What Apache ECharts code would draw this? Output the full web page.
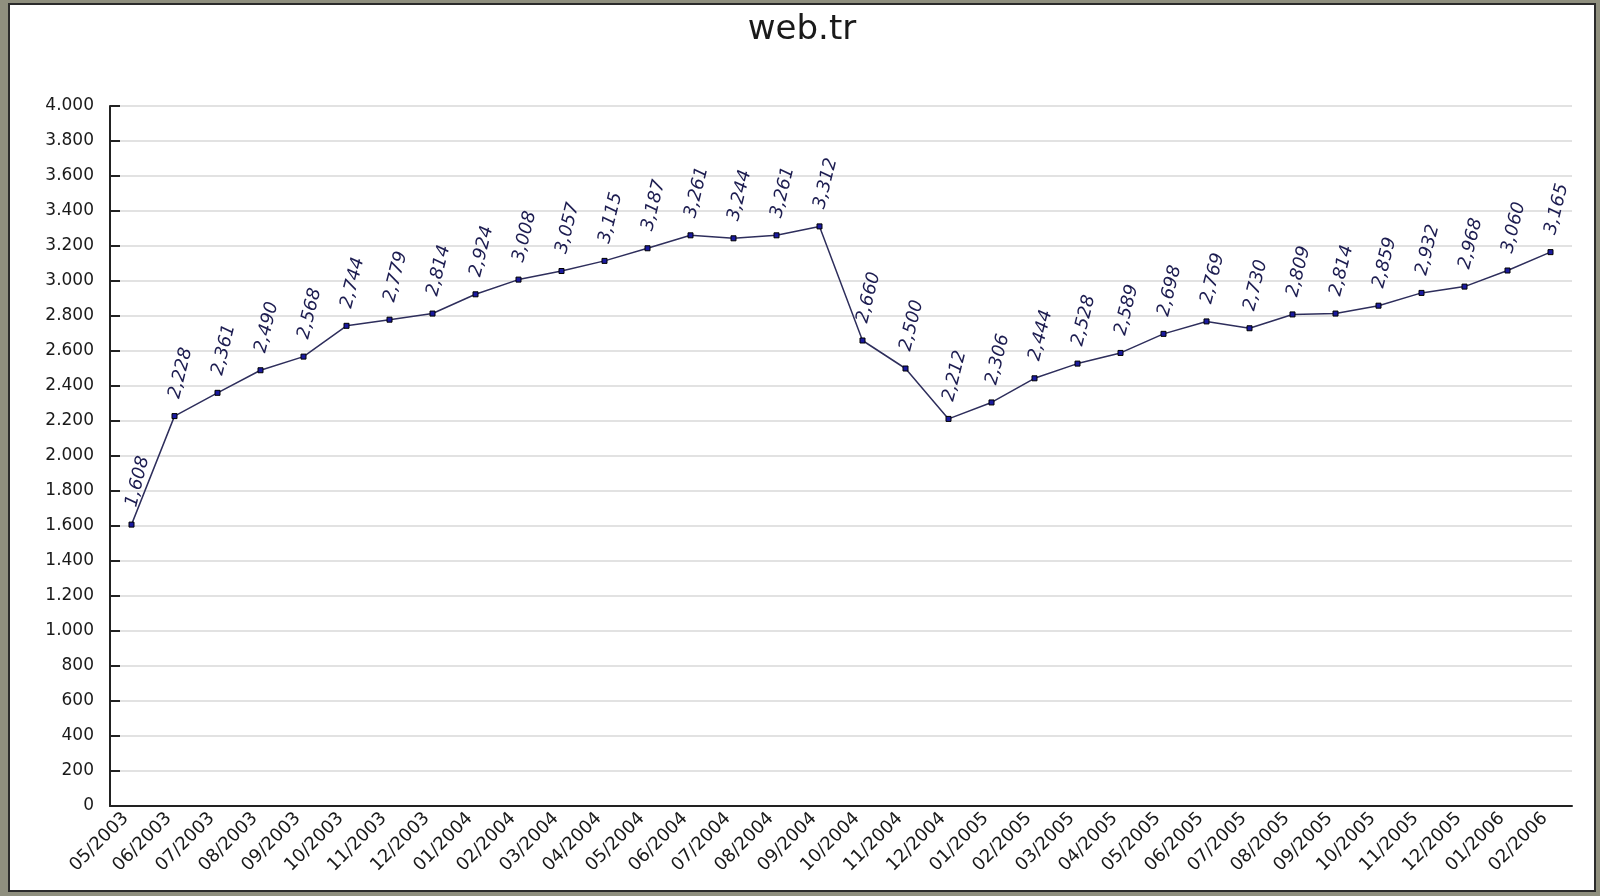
<!DOCTYPE html>
<html>
<head>
<meta charset="utf-8">
<script src="https://cdn.jsdelivr.net/npm/echarts@6/dist/echarts.min.js"></script>
<style>
  html, body { margin: 0; padding: 0; background: #8f8f7e; }
  #frame {
    position: absolute; left: 8px; top: 3px; width: 1588px; height: 889px;
    background: #fff; border: 2px solid #2b2b2b; box-sizing: border-box;
  }
  #chart { position: absolute; left: -8px; top: -3px; width: 1600px; height: 896px; }
</style>
</head>
<body>
<div id="frame"><div id="chart"></div></div>
<script>
const months = ['05/2003', '06/2003', '07/2003', '08/2003', '09/2003', '10/2003', '11/2003', '12/2003',
  '01/2004', '02/2004', '03/2004', '04/2004', '05/2004', '06/2004', '07/2004', '08/2004', '09/2004',
  '10/2004', '11/2004', '12/2004', '01/2005', '02/2005', '03/2005', '04/2005', '05/2005', '06/2005',
  '07/2005', '08/2005', '09/2005', '10/2005', '11/2005', '12/2005', '01/2006', '02/2006']
const counts = [1608, 2228, 2361, 2490, 2568, 2744, 2779, 2814, 2924, 3008, 3057, 3115, 3187, 3261,
  3244, 3261, 3312, 2660, 2500, 2212, 2306, 2444, 2528, 2589, 2698, 2769, 2730, 2809, 2814, 2859,
  2932, 2968, 3060, 3165]
const yMin = 0
const yMax = 4000
const yStep = 200

const chart = echarts.init(document.getElementById('chart'))
const fontFam = 'DejaVu Sans'

const option = {
  backgroundColor: 'transparent',
  title: {
    text: 'web.tr',
    left: 'center',
    top: 6,
    padding: [5, 0, 5, 28],
    textStyle: { fontFamily: fontFam, fontSize: 34, fontWeight: 'normal', color: '#1a1a1a' }
  },
  grid: { left: 108, right: 30, top: 104, bottom: 92 },
  xAxis: {
    type: 'category',
    data: months,
    boundaryGap: true,
    axisLine: { lineStyle: { color: '#222', width: 2 } },
    axisTick: { inside: true, alignWithLabel: true, length: 10, lineStyle: { color: '#222', width: 2 } },
    axisLabel: {
      rotate: 45, interval: 0, margin: 4, padding: [0, 8, 0, 0],
      fontFamily: fontFam, fontSize: 18, color: '#1a1a1a'
    },
    splitLine: { show: false }
  },
  yAxis: {
    type: 'value',
    min: yMin, max: yMax, interval: yStep,
    axisLine: { show: true, lineStyle: { color: '#222', width: 2 } },
    axisTick: { show: true, inside: true, length: 10, lineStyle: { color: '#222', width: 2 } },
    axisLabel: {
      margin: 16, fontFamily: fontFam, fontSize: 17, color: '#1a1a1a',
      formatter: v => v >= 1000 ? Math.floor(v / 1000) + '.' + String(v % 1000).padStart(3, '0') : String(v)
    },
    splitLine: { show: true, lineStyle: { color: '#e2e2e2', width: 2 } }
  },
  series: [{
    type: 'line',
    data: counts,
    symbol: 'rect',
    symbolSize: 5,
    itemStyle: { color: '#1a1aa0', borderColor: '#000', borderWidth: 1 },
    lineStyle: { color: '#2e2e5c', width: 1.5 },
    label: {
      show: true,
      position: 'top',
      distance: 15,
      rotate: 76,
      align: 'left',
      verticalAlign: 'middle',
      fontFamily: fontFam,
      fontStyle: 'italic',
      fontSize: 18,
      color: '#1c1c50',
      formatter: p => Math.floor(p.value / 1000) + ',' + String(p.value % 1000).padStart(3, '0')
    },
    emphasis: { disabled: true },
    animation: false
  }]
}

chart.setOption(option)
</script>
</body>
</html>
